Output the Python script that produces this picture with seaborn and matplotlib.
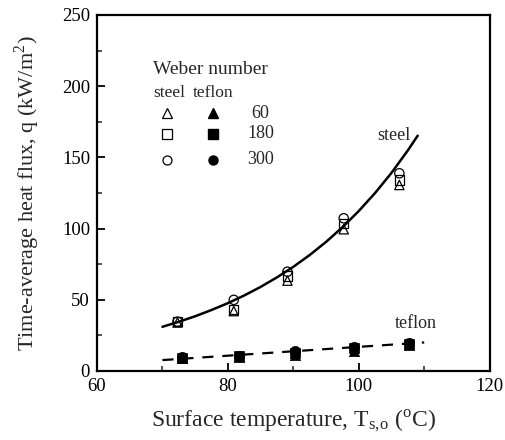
import matplotlib
matplotlib.use("Agg")
import matplotlib.pyplot as plt
import seaborn as sns
from matplotlib.ticker import MultipleLocator

# ---------------- data ----------------
steel_T = [72.3, 80.9, 89.1, 97.7, 106.2]
steel_q60 = [34.0, 42.0, 63.4, 99.5, 130.6]
steel_q180 = [34.5, 43.0, 66.7, 103.7, 134.0]
steel_q300 = [34.6, 49.9, 69.7, 107.2, 138.8]

teflon_T = [73.0, 81.7, 90.2, 99.3, 107.7]
teflon_q60 = [9.0, 10.0, 11.3, 14.3, 18.5]
teflon_q180 = [9.3, 10.3, 12.5, 15.8, 19.0]
teflon_q300 = [9.6, 10.6, 14.3, 16.7, 19.5]

# fitted curves as drawn in the reference
steel_fit_T = [70, 72.5, 75, 77.5, 80, 82.5, 85, 87.5, 90, 92.5, 95,
               97.5, 100, 102.5, 105, 107.5, 109]
steel_fit_q = [31.0, 34.5, 38.4, 42.8, 47.6, 53.0, 59.0, 65.7, 73.1, 81.4,
               90.6, 100.9, 112.3, 125.0, 139.1, 154.9, 165.2]
teflon_fit_T = [70, 80, 90, 100, 110]
teflon_fit_q = [7.6, 10.7, 13.8, 16.9, 20.0]

weber = ["60", "180", "300"]
markers = ["^", "s", "o"]

sns.set_theme(style="ticks")
plt.rcParams["font.family"] = ["Liberation Serif", "DejaVu Serif"]
plt.rcParams["mathtext.fontset"] = "stix"

fig = plt.figure(figsize=(5.06, 4.40), dpi=100)
ax = fig.add_axes([0.1917, 0.157, 0.776, 0.809])

sns.lineplot(x=steel_fit_T, y=steel_fit_q, ax=ax, color="black", lw=1.8)
sns.lineplot(x=teflon_fit_T, y=teflon_fit_q, ax=ax, color="black", lw=1.6,
             linestyle=(0, (5, 4)))

steel_sets = [steel_q60, steel_q180, steel_q300]
teflon_sets = [teflon_q60, teflon_q180, teflon_q300]
for m, qs in zip(markers, steel_sets):
    sns.scatterplot(x=steel_T, y=qs, ax=ax, marker=m, s=45,
                    facecolor="none", edgecolor="black", linewidth=0.9, zorder=3)
for m, qs in zip(markers, teflon_sets):
    sns.scatterplot(x=teflon_T, y=qs, ax=ax, marker=m, s=55,
                    color="black", edgecolor="black", linewidth=0.5, zorder=3)

ax.set_xlim(60, 120)
ax.set_ylim(0, 250)
ax.xaxis.set_major_locator(MultipleLocator(20))
ax.xaxis.set_minor_locator(MultipleLocator(10))
ax.yaxis.set_major_locator(MultipleLocator(50))
ax.yaxis.set_minor_locator(MultipleLocator(25))
ax.tick_params(which="major", direction="in", length=6, width=1.3,
               labelsize=13.5, colors="black", pad=5)
ax.tick_params(which="minor", direction="in", length=3.5, width=1.1)
ax.tick_params(top=False, right=False, which="both")
for sp in ax.spines.values():
    sp.set_visible(True)
    sp.set_linewidth(1.6)
    sp.set_color("black")

ax.set_xlabel(r"Surface temperature, T$_{\mathregular{s{,}o}}$ ($^{\mathregular{o}}$C)",
              fontsize=17, labelpad=9)
ax.set_ylabel(r"Time-average heat flux, q (kW/m$^{\mathregular{2}}$)",
              fontsize=16, labelpad=14)

# legend block
ax.text(68.6, 212, "Weber number", fontsize=14, ha="left", va="center")
ax.text(68.6, 195, "steel", fontsize=12.5, ha="left", va="center")
ax.text(74.6, 195, "teflon", fontsize=12.5, ha="left", va="center")
rows_y = [180.8, 166.4, 148.2]
for m, lab, yy in zip(markers, weber, rows_y):
    ax.plot([70.7], [yy], marker=m, ms=6.5, mfc="none", mec="black", mew=0.9, ls="")
    ax.plot([77.7], [yy], marker=m, ms=6.5, mfc="black", mec="black", ls="")
    ax.text(85.0, yy, lab, fontsize=13, ha="center", va="center")

ax.text(102.8, 165, "steel", fontsize=13, ha="left", va="center")
ax.text(105.5, 33, "teflon", fontsize=13, ha="left", va="center")

fig.savefig("out.png", dpi=100)
